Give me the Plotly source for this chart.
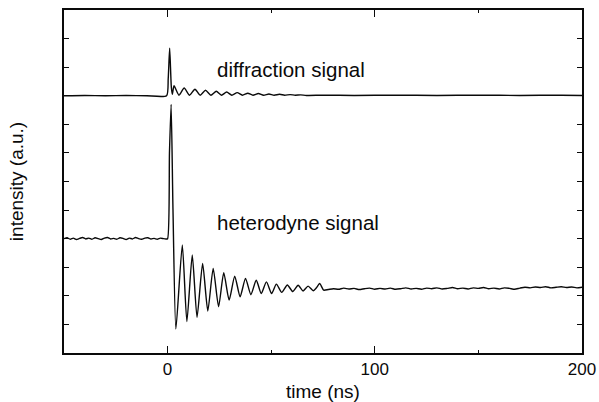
import plotly.graph_objects as go

# ---------------- data ----------------
# heterodyne signal: pre-trigger baseline
het_pre_t = [-50, -48.5, -47, -45.5, -44, -42.5, -41, -39.5, -38, -36.5, -35, -33.5,
             -32, -30.5, -29, -27.5, -26, -24.5, -23, -21.5, -20, -18.5, -17, -15.5,
             -14, -12.5, -11, -9.5, -8, -6.5, -5, -3.5, -2, -0.8]
het_pre_v = [4.00, 4.03, 3.98, 4.02, 3.97, 4.01, 4.04, 3.99, 4.02, 3.98, 4.03, 4.00,
             3.97, 4.02, 4.04, 3.99, 4.01, 3.98, 4.03, 4.01, 3.97, 4.02, 3.99, 4.04,
             4.00, 3.98, 4.02, 4.03, 3.99, 4.01, 3.98, 4.02, 4.00, 3.99]
# heterodyne signal: spike and damped oscillation (extrema)
het_osc_t = [0.0, 0.9, 1.7, 2.6, 4.0, 7.1, 9.3, 11.9, 14.2, 16.9, 19.4, 22.0, 24.6,
             27.1, 29.7, 32.4, 35.0, 37.6, 40.2, 42.8, 45.2, 47.7, 50.2, 52.5, 55.1,
             57.8, 60.4, 63.0, 65.4, 67.8, 70.3, 71.8, 73.4, 75.3]
het_osc_v = [4.00, 7.00, 8.70, 5.00, 0.84, 3.78, 1.10, 3.43, 1.25, 3.13, 1.47, 2.96, 1.62,
             2.81, 1.85, 2.69, 1.97, 2.61, 2.04, 2.55, 2.08, 2.49, 2.08, 2.41, 2.12,
             2.38, 2.15, 2.37, 2.17, 2.34, 2.18, 2.28, 2.43, 2.20]
# heterodyne signal: late flat part
het_late_t = [77.5, 80, 82.5, 85, 87.5, 90, 92.5, 95, 97.5, 100, 102.5, 105, 107.5, 110,
              112.5, 115, 117.5, 120, 122.5, 125, 127.5, 130, 132.5, 135, 137.5, 140,
              142.5, 145, 147.5, 150, 152.5, 155, 157.5, 160, 162.5, 165, 167.5, 170,
              172.5, 175, 177.5, 180, 182.5, 185, 187.5, 190, 192.5, 195, 197.5, 200]
het_late_v = [2.22, 2.25, 2.23, 2.27, 2.24, 2.26, 2.22, 2.25, 2.27, 2.23, 2.26, 2.24,
              2.27, 2.23, 2.25, 2.28, 2.24, 2.26, 2.23, 2.27, 2.25, 2.28, 2.24, 2.26,
              2.29, 2.25, 2.27, 2.24, 2.28, 2.26, 2.29, 2.25, 2.27, 2.24, 2.28, 2.26,
              2.23, 2.27, 2.30, 2.28, 2.31, 2.29, 2.32, 2.28, 2.30, 2.32, 2.29, 2.31,
              2.28, 2.30]

# diffraction signal
dif_t = [-50, -40, -30, -20, -10, -0.5, 0.3, 1.0, 1.8, 2.3, 3.1, 5.5, 8.0, 10.6, 13.2,
         15.7, 18.3, 20.9, 23.5, 26.0, 28.5, 31.0, 33.6, 36.1, 38.7, 41.2, 43.8, 46.3,
         48.9, 51.4, 54.0, 56.5, 59.1, 61.6, 64.2, 67, 75, 90, 110, 130, 150, 170, 190, 200]
dif_v = [9.00, 9.01, 9.00, 9.01, 9.00, 9.00, 9.60, 10.66, 9.30, 9.05, 9.35, 9.02, 9.27,
         9.02, 9.23, 9.02, 9.19, 9.02, 9.16, 9.02, 9.13, 9.02, 9.11, 9.02, 9.09, 9.02,
         9.08, 9.02, 9.06, 9.02, 9.05, 9.02, 9.04, 9.02, 9.03, 9.01, 9.02, 9.01, 9.02,
         9.01, 9.02, 9.01, 9.02, 9.01]

labels = ["diffraction signal", "heterodyne signal"]
label_pos = [(22.7, 9.93), (22.7, 4.55)]
x_ticks = [0, 100, 200]
x_ticklabels = ["0", "100", "200"]

# ---------------- figure ----------------
font = "Liberation Sans, Arial, sans-serif"
ink = "#0a0a0a"

het_t = het_pre_t + het_osc_t + het_late_t
het_v = het_pre_v + het_osc_v + het_late_v

fig = go.Figure()
fig.add_trace(go.Scatter(x=dif_t, y=dif_v, mode="lines",
                         line=dict(color=ink, width=1.4, shape="spline", smoothing=0.6),
                         showlegend=False, hoverinfo="skip"))
fig.add_trace(go.Scatter(x=het_t, y=het_v, mode="lines",
                         line=dict(color=ink, width=1.4, shape="spline", smoothing=0.6),
                         showlegend=False, hoverinfo="skip"))

for txt, (tx, ty) in zip(labels, label_pos):
    fig.add_annotation(x=tx, y=ty, text=txt, showarrow=False, xanchor="left",
                       yanchor="middle", font=dict(family=font, size=20.5, color=ink))

fig.update_layout(
    width=599, height=402,
    margin=dict(l=64, r=17, t=10, b=49),
    paper_bgcolor="white", plot_bgcolor="white",
    font=dict(family=font, color=ink),
)
fig.update_xaxes(
    range=[-50, 200], tickvals=x_ticks, ticktext=x_ticklabels,
    ticks="inside", ticklen=7, tickwidth=1.2, tickcolor=ink,
    minor=dict(tickvals=[50, 150], ticks="inside", ticklen=3, tickcolor=ink, tickwidth=1),
    showline=True, linecolor=ink, linewidth=1.6, mirror="ticks",
    showgrid=False, zeroline=False, automargin=False,
    tickfont=dict(family=font, size=17, color=ink),
    title=dict(text="time (ns)", font=dict(family=font, size=19, color=ink), standoff=6),
)
fig.update_yaxes(
    range=[0, 12], tickvals=list(range(0, 13)), showticklabels=False,
    ticks="inside", ticklen=5, tickwidth=1.2, tickcolor=ink,
    showline=True, linecolor=ink, linewidth=1.6, mirror="ticks",
    showgrid=False, zeroline=False, automargin=False,
    title=dict(text="intensity (a.u.)", font=dict(family=font, size=19, color=ink), standoff=34),
)

fig.write_html("out.html", config={"displayModeBar": False},
               post_script="document.body.style.margin='0px';document.body.style.padding='0px';")
